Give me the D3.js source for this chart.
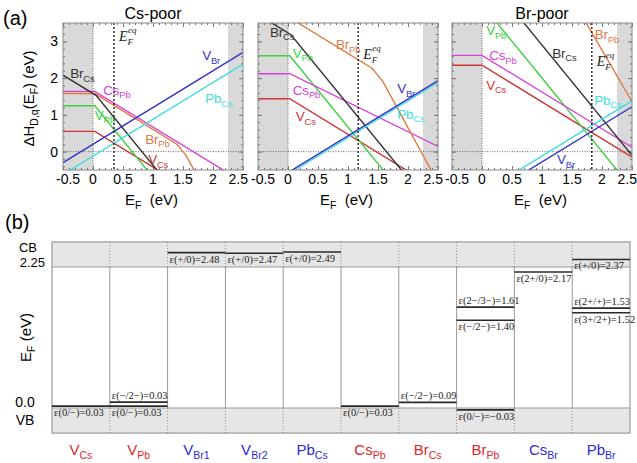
<!DOCTYPE html>
<html lang="en">
<head>
<meta charset="UTF-8">
<title>Defect formation energies</title>
<script src="https://cdnjs.cloudflare.com/ajax/libs/d3/7.8.5/d3.min.js"></script>
<style>
  body { margin: 0; background: #fff; }
  svg { display: block; font-family: "Liberation Sans", Arial, sans-serif; }
</style>
</head>
<body>
<div id="chart"></div>
<script>
  // ---------- panel (a): formation energy vs Fermi level, vertices [E_F, dH] ----------
  const panelTitles = ["Cs-poor", "", "Br-poor"];
  const xTicks = [-0.5, 0, 0.5, 1, 1.5, 2, 2.5];
  const xTickLabels = ["-0.5", "0", "0.5", "1", "1.5", "2", "2.5"];
  const yTicks = [0, 1, 2, 3];
  const eqFermi = [0.35, 1.17, 1.83];

  // one entry per panel (Cs-poor, middle, Br-poor)
  const vCs  = [[[-0.5, 0.55], [0.03, 0.55], [1.2, -0.62]],
                [[-0.5, 1.44], [0.03, 1.44], [2.0, -0.53]],
                [[-0.5, 2.35], [0, 2.35], [2.5, -0.15]]];
  const vPb  = [[[-0.5, 1.25], [0.03, 1.25], [0.95, -0.6]],
                [[-0.5, 2.61], [0.03, 2.61], [1.6, -0.53]],
                [[0.2, 3.6], [2.3, -0.6]]];
  const vBr  = [[[-0.5, -0.3], [2.5, 2.7]],
                [[-0.5, -1.07], [2.5, 1.93]],
                [[0.7, -0.58], [2.5, 1.22]]];
  const pbCs = [[[-0.5, -0.62], [2.5, 2.38]],
                [[-0.5, -1.12], [2.5, 1.88]],
                [[0.5, -0.62], [2.5, 1.38]]];
  const csPb = [[[-0.5, 1.64], [0.03, 1.64], [2.3, -0.63]],
                [[-0.5, 2.12], [0.03, 2.12], [2.5, 0.14]],
                [[-0.5, 2.62], [0, 2.62], [2.5, 0.12]]];
  const brCs = [[[-0.5, 2.08], [0.05, 1.53], [1.1, -0.57]],
                [[-0.5, 3.73], [0.05, 3.18], [1.9, -0.52]],
                [[0.65, 3.6], [2.5, -0.1]]];
  const brPb = [[[-0.5, 1.58], [0.03, 1.58], [1.4, 0.2], [1.55, -0.1], [1.75, -0.7]],
                [[0, 3.67], [1.4, 2.27], [1.58, 1.91], [2.4, -0.55]],
                [[1.7, 3.6], [2.5, 1.36]]];

  // ---------- panel (b): charge transition levels ----------
  const columns = ["V_Cs", "V_Pb", "V_Br1", "V_Br2", "Pb_Cs", "Cs_Pb", "Br_Cs", "Br_Pb", "Cs_Br", "Pb_Br"];
  const levelColumn = ["V_Cs", "V_Pb", "V_Pb", "V_Br1", "V_Br2", "Pb_Cs", "Cs_Pb", "Br_Cs",
                       "Br_Pb", "Br_Pb", "Br_Pb", "Cs_Br", "Pb_Br", "Pb_Br", "Pb_Br"];
  const levelTransition = ["0/−", "−/2−", "0/−", "+/0", "+/0", "+/0", "0/−", "−/2−",
                           "2−/3−", "−/2−", "0/−", "2+/0", "+/0", "2+/+", "3+/2+"];
  const levelValue = [0.03, 0.03, 0.03, 2.48, 2.47, 2.49, 0.03, 0.09,
                      1.61, 1.40, -0.03, 2.17, 2.37, 1.53, 1.52];
  const bandEdges = [0, 2.25]; // VBM, CBM

  // ---------- layout ----------
  const width = 637, height = 463;
  const aLeft = [63, 258, 452], aW = 180, aTop = 23, aBottom = 170;
  const red = "#e0262c", blue = "#2a2ad6";

  // label anchors in data units, one per panel
  const series = [
    { name: ["V", "Cs"],  color: "#cf3535", pts: vCs,  lab: [[0.92, -0.33], [0.13, 0.84], [0.07, 1.69]] },
    { name: ["V", "Pb"],  color: "#3fcf3f", pts: vPb,  lab: [[0.03, 0.87], [0.08, 2.56], [0.07, 3.16]] },
    { name: ["Cs", "Pb"], color: "#d83fd8", pts: csPb, lab: [[0.17, 1.55], [0.08, 1.55], [0.12, 2.48]] },
    { name: ["Br", "Pb"], color: "#e07a45", pts: brPb, lab: [[0.87, 0.22], [0.8, 2.8], [1.88, 3.07]] },
    { name: ["Br", "Cs"], color: "#333333", pts: brCs, lab: [[-0.38, 2.0], [-0.3, 3.13], [1.17, 2.56]] },
    { name: ["Pb", "Cs"], color: "#3fdede", pts: pbCs, lab: [[1.87, 1.31], [1.82, 0.9], [1.87, 1.28]] },
    { name: ["V", "Br"],  color: "#3434c8", pts: vBr,  lab: [[1.82, 2.48], [1.82, 1.6], [1.25, -0.35]] }
  ];
  const eqLabelH = [3.02, 2.53, 2.34];

  const svg = d3.select("#chart").append("svg")
      .attr("width", width).attr("height", height)
      .attr("viewBox", [0, 0, width, height]);

  function subText (text, main, sub, size) {
    text.append("tspan").text(main);
    text.append("tspan").attr("font-size", size * 0.7).attr("dy", size * 0.28).text(sub);
    return text;
  }

  // ===== (a) =====
  svg.append("text").attr("x", 3).attr("y", 25).attr("font-size", 20).text("(a)");

  const yA = d3.scaleLinear([-0.5, 3.5], [aBottom, aTop]);

  const yLab = svg.append("text")
      .attr("transform", `translate(34,${(aTop + aBottom) / 2 + 2}) rotate(-90)`)
      .attr("text-anchor", "middle").attr("font-size", 15);
  yLab.append("tspan").text("ΔH");
  yLab.append("tspan").attr("font-size", 10.5).attr("dy", 4).text("D,q");
  yLab.append("tspan").attr("dy", -4).text("(E");
  yLab.append("tspan").attr("font-size", 10.5).attr("dy", 4).text("F");
  yLab.append("tspan").attr("dy", -4).text(") (eV)");

  aLeft.forEach((left, p) => {
    const x = d3.scaleLinear([-0.5, 2.5], [left, left + aW]);
    const g = svg.append("g");

    g.append("clipPath").attr("id", "clip" + p)
      .append("rect").attr("x", left).attr("y", aTop).attr("width", aW).attr("height", aBottom - aTop);

    // shaded regions outside the gap
    g.append("rect").attr("x", x(-0.5)).attr("y", aTop).attr("width", x(0) - x(-0.5))
        .attr("height", aBottom - aTop).attr("fill", "#d9d9d9");
    g.append("rect").attr("x", x(bandEdges[1])).attr("y", aTop).attr("width", x(2.5) - x(bandEdges[1]))
        .attr("height", aBottom - aTop).attr("fill", "#d9d9d9");

    // dotted reference lines
    g.append("line").attr("x1", x(-0.5)).attr("x2", x(2.5)).attr("y1", yA(0)).attr("y2", yA(0))
        .attr("stroke", "#555").attr("stroke-width", 0.9).attr("stroke-dasharray", "1,1.5");
    g.append("line").attr("x1", x(0)).attr("x2", x(0)).attr("y1", aTop).attr("y2", aBottom)
        .attr("stroke", "#555").attr("stroke-width", 0.9).attr("stroke-dasharray", "1,1.5");

    // ticks on all four sides, pointing in
    const minorX = d3.range(-0.5, 2.501, 0.1), minorY = d3.range(-0.4, 3.5, 0.2);
    const tickAxis = (axis, tr) => {
      const a = g.append("g").attr("transform", tr).call(axis.tickFormat(""));
      a.select(".domain").remove();
      a.selectAll("line").attr("stroke", "#777");
    };
    tickAxis(d3.axisBottom(x).tickValues(minorX).tickSize(-2), `translate(0,${aBottom})`);
    tickAxis(d3.axisBottom(x).tickValues(xTicks).tickSize(-4), `translate(0,${aBottom})`);
    tickAxis(d3.axisTop(x).tickValues(minorX).tickSize(-2), `translate(0,${aTop})`);
    tickAxis(d3.axisTop(x).tickValues(xTicks).tickSize(-4), `translate(0,${aTop})`);
    tickAxis(d3.axisLeft(yA).tickValues(minorY).tickSize(-2), `translate(${left},0)`);
    tickAxis(d3.axisLeft(yA).tickValues(yTicks).tickSize(-4), `translate(${left},0)`);
    tickAxis(d3.axisRight(yA).tickValues(minorY).tickSize(-2), `translate(${left + aW},0)`);
    tickAxis(d3.axisRight(yA).tickValues(yTicks).tickSize(-4), `translate(${left + aW},0)`);

    // defect lines
    const line = d3.line().x(d => x(d[0])).y(d => yA(d[1]));
    const lines = g.append("g").attr("clip-path", `url(#clip${p})`);
    series.forEach(s => {
      lines.append("path").attr("d", line(s.pts[p])).attr("fill", "none")
          .attr("stroke", s.color).attr("stroke-width", 1.4);
    });

    // equilibrium Fermi level
    g.append("line").attr("x1", x(eqFermi[p])).attr("x2", x(eqFermi[p]))
        .attr("y1", aTop).attr("y2", aBottom)
        .attr("stroke", "#222").attr("stroke-width", 1.4).attr("stroke-dasharray", "2,2");
    const ex = x(eqFermi[p]) + 5, ey = yA(eqLabelH[p]);
    g.append("text").attr("x", ex).attr("y", ey)
        .attr("font-family", "'Liberation Serif', 'Times New Roman', serif")
        .attr("font-style", "italic").attr("font-size", 14).attr("fill", "#222").text("E");
    g.append("text").attr("x", ex + 8.5).attr("y", ey + 4)
        .attr("font-family", "'Liberation Serif', serif").attr("font-style", "italic")
        .attr("font-size", 9).attr("fill", "#222").text("F");
    g.append("text").attr("x", ex + 9).attr("y", ey - 8)
        .attr("font-family", "'Liberation Serif', serif").attr("font-style", "italic")
        .attr("font-size", 9).attr("fill", "#222").text("eq");

    // defect labels
    series.forEach(s => {
      const t = g.append("text").attr("x", x(s.lab[p][0])).attr("y", yA(s.lab[p][1]))
          .attr("font-size", 13.5).attr("letter-spacing", -0.2).attr("fill", s.color);
      subText(t, s.name[0], s.name[1], 13.5);
    });

    // frame
    g.append("rect").attr("x", left).attr("y", aTop).attr("width", aW).attr("height", aBottom - aTop)
        .attr("fill", "none").attr("stroke", "#888");

    // tick labels
    g.selectAll(".xt").data(xTicks).join("text")
        .attr("x", d => x(d)).attr("y", aBottom + 14)
        .attr("text-anchor", (d, i) => i === 0 ? "start" : i === xTicks.length - 1 ? "end" : "middle")
        .attr("dx", (d, i) => i === 0 ? -7 : i === xTicks.length - 1 ? 5 : 0)
        .attr("font-size", 14).text((d, i) => xTickLabels[i]);
    if (p === 0) {
      g.selectAll(".yt").data(yTicks).join("text")
          .attr("x", left - 5).attr("y", d => yA(d)).attr("dy", "0.36em")
          .attr("text-anchor", "end").attr("font-size", 14).text(d => d);
    }

    subText(g.append("text").attr("x", left + aW / 2 - 28).attr("y", aBottom + 35).attr("font-size", 15),
        "E", "F", 15).append("tspan").attr("dy", -4.2).text("\u00a0\u00a0(eV)");

    if (panelTitles[p]) {
      g.append("text").attr("x", left + aW / 2).attr("y", 19).attr("text-anchor", "middle")
          .attr("font-size", 16).text(panelTitles[p]);
    }
  });

  // ===== (b) =====
  const bx = d3.scaleBand(columns, [52, 630]);
  const by = d3.scaleLinear(bandEdges, [408, 267]);
  const bTop = by(2.65), bBot = by(-0.4);
  const gb = svg.append("g");

  gb.append("text").attr("x", 5).attr("y", 229).attr("font-size", 20).text("(b)");

  gb.append("rect").attr("x", 52).attr("y", bTop).attr("width", 578).attr("height", by(bandEdges[1]) - bTop)
      .attr("fill", "#e6e6e6");
  gb.append("rect").attr("x", 52).attr("y", by(bandEdges[0])).attr("width", 578).attr("height", bBot - by(bandEdges[0]))
      .attr("fill", "#e6e6e6");

  // column dividers: dotted inside the bands, solid in the gap
  columns.slice(1).forEach(c => {
    const cx = bx(c);
    gb.append("line").attr("x1", cx).attr("x2", cx).attr("y1", bTop).attr("y2", by(bandEdges[1]))
        .attr("stroke", "#888").attr("stroke-dasharray", "1,2");
    gb.append("line").attr("x1", cx).attr("x2", cx).attr("y1", by(bandEdges[0])).attr("y2", bBot)
        .attr("stroke", "#888").attr("stroke-dasharray", "1,2");
    gb.append("line").attr("x1", cx).attr("x2", cx).attr("y1", by(bandEdges[1])).attr("y2", by(bandEdges[0]))
        .attr("stroke", "#999");
  });
  bandEdges.forEach(v => {
    gb.append("line").attr("x1", 52).attr("x2", 630).attr("y1", by(v)).attr("y2", by(v)).attr("stroke", "#999");
  });
  gb.append("rect").attr("x", 52).attr("y", bTop).attr("width", 578).attr("height", bBot - bTop)
      .attr("fill", "none").attr("stroke", "#888");

  // transition levels
  const labelAbove = new Set(["V_Pb|−/2−", "Br_Cs|−/2−", "Br_Pb|2−/3−", "Pb_Br|2+/+"]);
  const fmt = d3.format(".2f");
  levelValue.forEach((v, i) => {
    const col = levelColumn[i], tr = levelTransition[i];
    const above = labelAbove.has(col + "|" + tr);
    // levels that coincide in one column are split apart so both stay visible
    const twin = levelValue.some((w, j) => j !== i && levelColumn[j] === col && Math.abs(by(w) - by(v)) < 3);
    const ly = by(v) + (twin && above ? -4 : 0);
    gb.append("line").attr("x1", bx(col)).attr("x2", bx(col) + bx.bandwidth())
        .attr("y1", ly).attr("y2", ly).attr("stroke", "#2a2a2a").attr("stroke-width", 1.6);
    gb.append("text").attr("x", bx(col) + 2).attr("y", above ? ly - 3 : ly + 10)
        .attr("font-family", "'Liberation Serif', 'Times New Roman', serif").attr("font-size", 10.5)
        .attr("fill", "#222").text(`ε(${tr})=${fmt(v)}`);
  });

  // axis annotations
  gb.append("text").attr("x", 28).attr("y", bTop + 10).attr("text-anchor", "middle").attr("font-size", 13).text("CB");
  gb.append("text").attr("x", 45).attr("y", by(bandEdges[1]) - 0.5).attr("text-anchor", "end").attr("font-size", 13).text("2.25");
  gb.append("text").attr("x", 25).attr("y", by(bandEdges[0]) - 1).attr("text-anchor", "middle").attr("font-size", 14).text("0.0");
  gb.append("text").attr("x", 25).attr("y", by(bandEdges[0]) + 17).attr("text-anchor", "middle").attr("font-size", 14).text("VB");
  const bl = gb.append("text").attr("transform", `translate(31,${(by(bandEdges[0]) + by(bandEdges[1])) / 2}) rotate(-90)`)
      .attr("text-anchor", "middle").attr("font-size", 15);
  subText(bl, "E", "F", 15).append("tspan").attr("dy", -4.2).text("\u00a0(eV)");

  // column labels
  const blueCols = new Set(["V_Br1", "V_Br2", "Pb_Cs", "Cs_Br", "Pb_Br"]);
  columns.forEach(c => {
    const [main, sub] = c.split("_");
    const t = gb.append("text").attr("x", bx(c) + bx.bandwidth() / 2).attr("y", 455)
        .attr("text-anchor", "middle").attr("font-size", 15)
        .attr("fill", blueCols.has(c) ? blue : red);
    subText(t, main, sub, 15);
  });
</script>
</body>
</html>
